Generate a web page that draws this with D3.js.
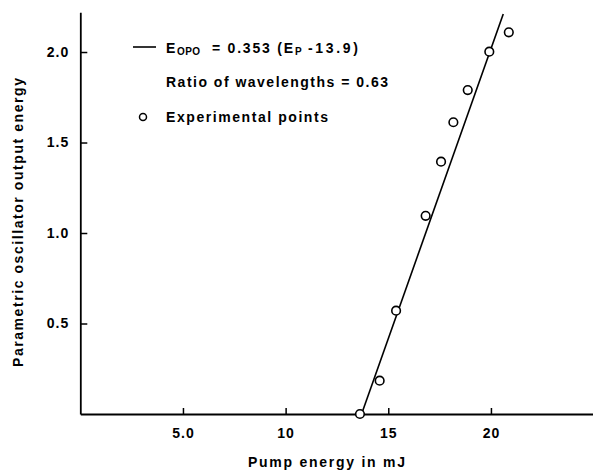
<!DOCTYPE html>
<html>
<head>
<meta charset="utf-8">
<script src="https://cdn.jsdelivr.net/npm/d3@7"></script>
<style>
  body { margin: 0; background: #fff; }
  svg text { font-family: "Liberation Sans", Arial, sans-serif; font-weight: bold; fill: #000; }
</style>
</head>
<body>
<div id="viz"></div>
<script>
// pump energy (mJ) vs OPO output energy
var pumpEnergy = [13.62, 14.58, 15.38, 16.82, 17.57, 18.17, 18.87, 19.92, 20.87];
var opoEnergy  = [0.0,   0.184, 0.571, 1.095, 1.394, 1.612, 1.79,  2.002, 2.109];

// fitted line as drawn (end points)
var fitX = [13.7, 20.6];
var fitY = [0.0, 2.21];

var xTicks = [5, 10, 15, 20],
    xTickLabels = ["5.0", "10", "15", "20"];
var yTicks = [0.5, 1.0, 1.5, 2.0];

var width = 593,
    height = 472;

var svg = d3.select("#viz").append("svg")
    .attr("width", width)
    .attr("height", height);

var x = d3.scaleLinear().domain([0, 25]).range([80.3, 593.6]);
var y = d3.scaleLinear().domain([0, 2.22]).range([414, 12.2]);

// y axis, ticks pointing inward
svg.append("g")
    .attr("transform", "translate(80.3,0)")
    .call(d3.axisLeft(y)
      .tickValues(yTicks)
      .tickFormat(d3.format(".1f"))
      .tickSizeInner(-7)
      .tickSizeOuter(0)
      .tickPadding(11));

// x axis, ticks pointing up
svg.append("g")
    .attr("transform", "translate(0,414)")
    .call(d3.axisBottom(x)
      .tickValues(xTicks)
      .tickFormat(function(d, i) { return xTickLabels[i]; })
      .tickSizeInner(-6)
      .tickSizeOuter(0)
      .tickPadding(14));

svg.selectAll(".domain").attr("stroke-width", 1.8);
svg.selectAll(".tick line").attr("stroke-width", 1.5);
svg.selectAll(".tick text")
    .attr("font-size", 14)
    .attr("font-family", null)
    .attr("letter-spacing", 1);

// fit line
svg.append("line")
    .attr("x1", x(fitX[0])).attr("y1", y(fitY[0]))
    .attr("x2", x(fitX[1])).attr("y2", y(fitY[1]))
    .attr("stroke", "#000")
    .attr("stroke-width", 1.6);

// points
svg.selectAll("circle.pt")
    .data(d3.range(pumpEnergy.length))
  .enter().append("circle")
    .attr("class", "pt")
    .attr("cx", function(i) { return x(pumpEnergy[i]); })
    .attr("cy", function(i) { return y(opoEnergy[i]); })
    .attr("r", 4.3)
    .attr("fill", "#fff")
    .attr("stroke", "#000")
    .attr("stroke-width", 1.6);

// legend
var lg = svg.append("g");
lg.append("line")
    .attr("x1", 133).attr("x2", 156).attr("y1", 47).attr("y2", 47)
    .attr("stroke", "#000").attr("stroke-width", 1.6);

lg.append("text").attr("x", 166).attr("y", 53).attr("font-size", 14).text("E");
lg.append("text").attr("x", 177).attr("y", 55).attr("font-size", 10)
    .attr("textLength", 23).text("OPO");
lg.append("text").attr("x", 212).attr("y", 53).attr("font-size", 14)
    .attr("textLength", 81).text("= 0.353 (E");
lg.append("text").attr("x", 295).attr("y", 55).attr("font-size", 10).text("P");
lg.append("text").attr("x", 308).attr("y", 53).attr("font-size", 14)
    .attr("textLength", 50).text("-13.9)");

lg.append("text").attr("x", 166).attr("y", 87).attr("font-size", 14)
    .attr("textLength", 222)
    .text("Ratio of wavelengths = 0.63");

lg.append("circle")
    .attr("cx", 143).attr("cy", 117).attr("r", 3.5)
    .attr("fill", "#fff").attr("stroke", "#000").attr("stroke-width", 1.5);
lg.append("text").attr("x", 166).attr("y", 122).attr("font-size", 14)
    .attr("textLength", 162)
    .text("Experimental points");

// axis titles
svg.append("text")
    .attr("x", 248).attr("y", 467)
    .attr("font-size", 14)
    .attr("textLength", 157)
    .text("Pump energy in mJ");

svg.append("text")
    .attr("transform", "translate(23,367) rotate(-90)")
    .attr("font-size", 14)
    .attr("textLength", 289)
    .text("Parametric oscillator output energy");
</script>
</body>
</html>
